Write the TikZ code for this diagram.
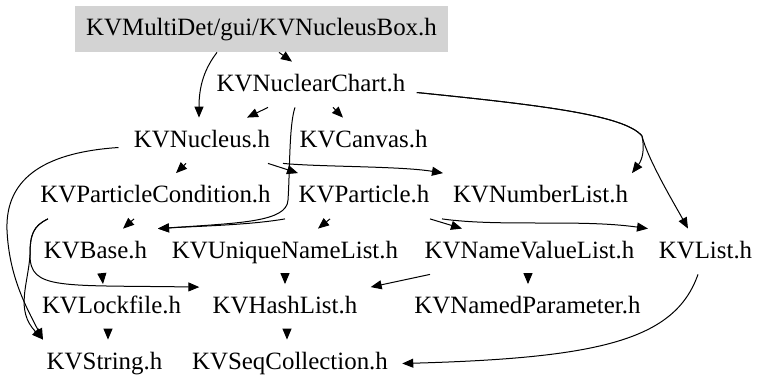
\documentclass[tikz,border=0pt]{standalone}
\usepackage{fontspec}
\setmainfont{Liberation Serif}
\usetikzlibrary{arrows.meta,calc}
\definecolor{rootgray}{RGB}{211,211,211}

\begin{document}
\begin{tikzpicture}[x=0.5pt,y=-0.5pt,
    hdr/.style={font=\fontsize{12.45}{14}\selectfont, inner sep=0pt,
                text height=14.5pt, text depth=8pt},
    inc/.style={-{Triangle[length=5.5pt,width=4.5pt]}, line width=0.5pt}]
    \useasboundingbox (0,0) rectangle (768,392);

    % --- header files, one row per include level ---
    \node[hdr, fill=rootgray, minimum width=186.5pt, minimum height=23pt] (root) at (261.5,29) {KVMultiDet/gui/KVNucleusBox.h};
    \node[hdr] (chart) at (311,84.5) {KVNuclearChart.h};
    \node[hdr] (nucleus) at (202,140.5) {KVNucleus.h};
    \node[hdr] (canvas) at (363.5,140.5) {KVCanvas.h};
    \node[hdr] (pcond) at (155.5,196) {KVParticleCondition.h};
    \node[hdr] (particle) at (364,196) {KVParticle.h};
    \node[hdr] (numlist) at (540.5,196) {KVNumberList.h};
    \node[hdr] (base) at (95.5,251.5) {KVBase.h};
    \node[hdr] (uniqlist) at (285,251.5) {KVUniqueNameList.h};
    \node[hdr] (nvlist) at (529.5,251.5) {KVNameValueList.h};
    \node[hdr] (list) at (705.5,251.5) {KVList.h};
    \node[hdr] (lockfile) at (111.5,307) {KVLockfile.h};
    \node[hdr] (hashlist) at (285,307) {KVHashList.h};
    \node[hdr] (namedpar) at (527.5,307) {KVNamedParameter.h};
    \node[hdr] (string) at (104.5,362.5) {KVString.h};
    \node[hdr] (seqcoll) at (290,362.5) {KVSeqCollection.h};

    % --- includes of the box ---
    \draw[inc] (217,0 |- root.south) .. controls (205,68) and (199,85) .. (199,0 |- nucleus.north);
    \draw[inc] (279,0 |- root.south) -- (292,0 |- chart.north);

    % --- KVNuclearChart ---
    \draw[inc] (268,0 |- chart.south) -- (247,0 |- nucleus.north);
    \draw[inc] (333,0 |- chart.south) -- (343,0 |- canvas.north);
    \draw[inc] (295,0 |- chart.south) .. controls (289,125) and (290,170) .. (288,200) .. controls (287,222) and (240,223) .. (158,0 |- base.north);
    \draw[inc] ($(chart.east)+(11,8)$) .. controls (540,105) and (625,115) .. (642,136) .. controls (645,150) and (642,160) .. (632,0 |- numlist.north);
    \draw[inc] ($(chart.east)+(11,8)$) .. controls (540,105) and (625,115) .. (642,136) .. controls (648,160) and (675,205) .. (688,0 |- list.north);

    % --- KVNucleus ---
    \draw[inc] (186,0 |- nucleus.south) -- (176,0 |- pcond.north);
    \draw[inc] (268,0 |- nucleus.south) -- (298,0 |- particle.north);
    \draw[inc] (283,0 |- nucleus.south) .. controls (320,167) and (400,166) .. (443,0 |- numlist.north);
    \draw[inc] ($(nucleus.west)+(-15,7)$) .. controls (50,152) and (5,175) .. (7,230) .. controls (9,275) and (25,305) .. (43,0 |- string.north);

    % --- KVParticleCondition ---
    \draw[inc] (134,0 |- pcond.south) -- (123,0 |- base.north);
    \draw[inc] (48,0 |- pcond.south) .. controls (33,226) and (30,235) .. (30,255) .. controls (28,285) and (15,310) .. (43,0 |- string.north);
    \draw[inc] (48,0 |- pcond.south) .. controls (33,226) and (30,235) .. (30,255) .. controls (30,290) and (60,285) .. ($(hashlist.north west)+(-13,3)$);

    % --- KVParticle ---
    \draw[inc] (285,0 |- particle.south) .. controls (250,225) and (200,226) .. (158,0 |- base.north);
    \draw[inc] (330,0 |- particle.south) -- (318,0 |- uniqlist.north);
    \draw[inc] (430,0 |- particle.south) -- (462,0 |- nvlist.north);
    \draw[inc] (442,0 |- particle.south) .. controls (500,227) and (580,219) .. (648,0 |- list.north);

    % --- lists and base ---
    \draw[inc] (102,0 |- base.south) -- (103,0 |- lockfile.north);
    \draw[inc] (285,0 |- uniqlist.south) -- (285,0 |- hashlist.north);
    \draw[inc] (430,0 |- nvlist.south) -- ($(hashlist.north east)+(13,3)$);
    \draw[inc] (528,0 |- nvlist.south) -- (528,0 |- namedpar.north);
    \draw[inc] (698,0 |- list.south) .. controls (675,340) and (600,358) .. ($(seqcoll.east)+(14,1)$);

    % --- bottom row ---
    \draw[inc] (108,0 |- lockfile.south) -- (108,0 |- string.north);
    \draw[inc] (287,0 |- hashlist.south) -- (287,0 |- seqcoll.north);
\end{tikzpicture}
\end{document}
